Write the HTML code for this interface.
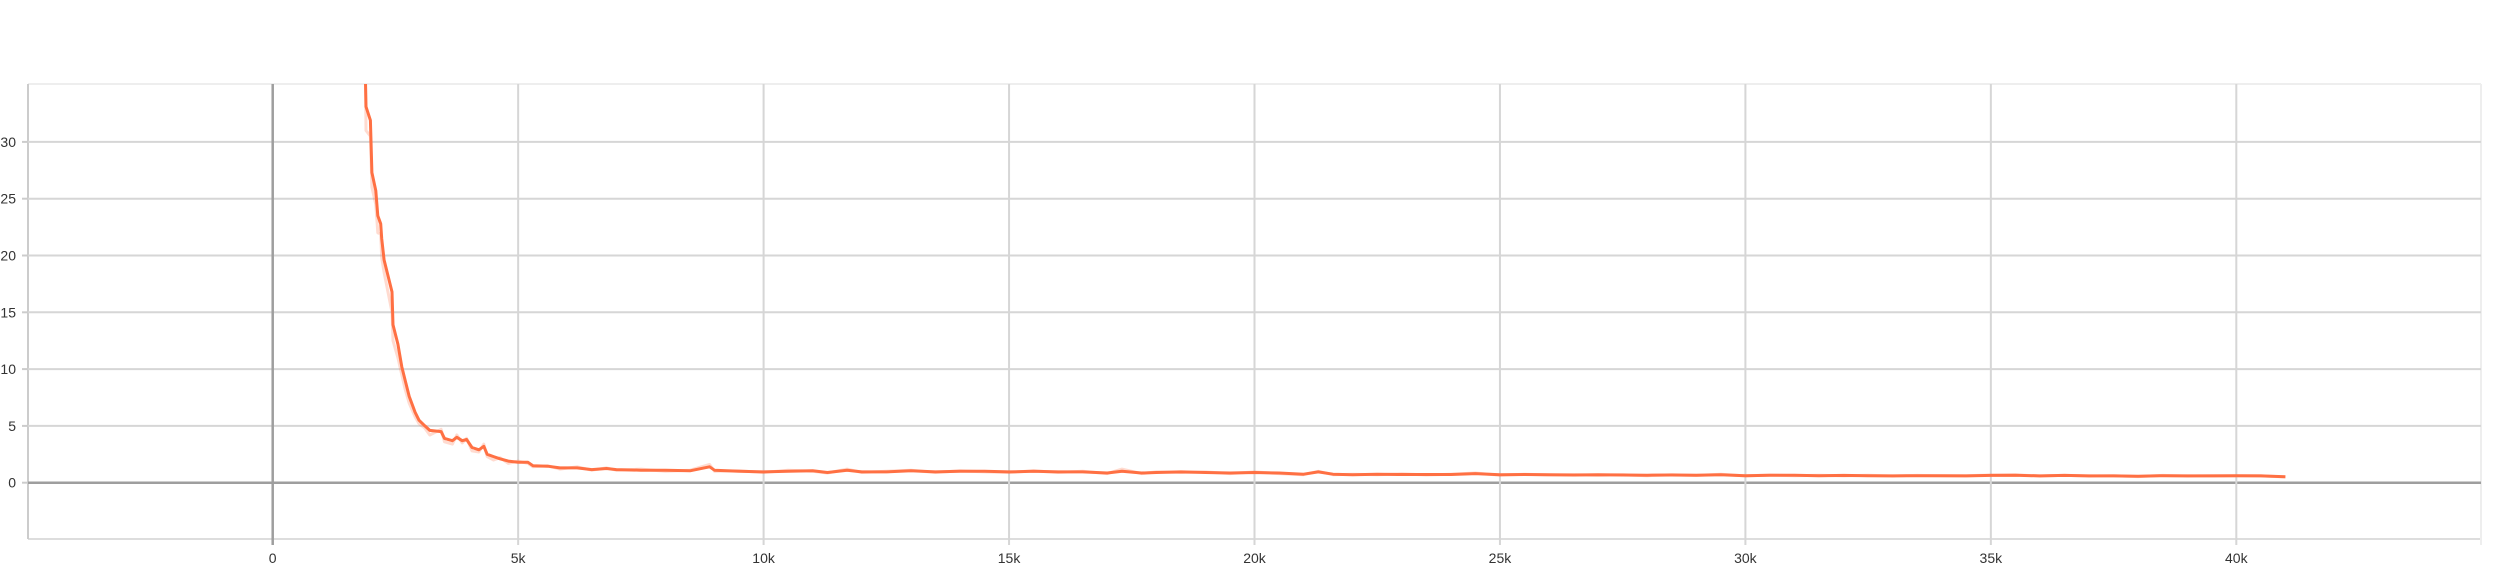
<!DOCTYPE html>
<html><head><meta charset="utf-8"><style>
html,body{margin:0;padding:0;background:#fff;}
svg{display:block;font-family:"Liberation Sans",sans-serif;}
</style></head><body>
<svg id="chart" width="2494" height="566" viewBox="0 0 2494 566" xmlns="http://www.w3.org/2000/svg">
<defs><clipPath id="plotclip"><rect x="28" y="84" width="2453" height="455"/></clipPath></defs>
<g id="grid"></g>
<g id="axes"></g>
<g id="series" clip-path="url(#plotclip)"></g>
</svg>
<script>
const steps = [1.89,1.9,1.99,2.02,2.1,2.14,2.2,2.22,2.27,2.43,2.45,2.55,2.63,2.7,2.78,2.9,2.98,3.1,3.2,3.43,3.5,3.66,3.75,3.86,3.95,4.06,4.2,4.3,4.37,4.5,4.63,4.8,5.0,5.2,5.3,5.6,5.85,6.2,6.5,6.8,7.0,7.5,8.0,8.5,8.9,9.0,9.5,10,10.5,11,11.3,11.7,12,12.5,13,13.5,14,14.5,15,15.5,16,16.5,17,17.3,17.7,18,18.5,19,19.5,20,20.5,21,21.3,21.6,22,22.5,23,23.5,24,24.5,25,25.5,26,26.5,27,27.5,28,28.5,29,29.5,30,30.5,31,31.5,32,32.5,33,33.5,34,34.5,35,35.5,36,36.5,37,37.5,38,38.5,39,39.5,40,40.5,41];
const values = [35.2,33.1,31.9,27.3,25.7,23.5,22.8,21.5,19.6,16.8,13.9,12.2,10.2,9.0,7.6,6.2,5.5,5.0,4.6,4.5,3.9,3.7,4.0,3.7,3.8,3.1,2.9,3.2,2.5,2.3,2.1,1.9,1.8,1.8,1.5,1.45,1.3,1.3,1.15,1.25,1.15,1.1,1.1,1.05,1.4,1.1,1.0,0.95,1.0,1.05,0.9,1.1,0.95,0.95,1.05,0.95,1.0,1.0,0.95,1.0,0.95,0.95,0.85,1.0,0.85,0.9,0.95,0.9,0.85,0.9,0.85,0.75,0.95,0.75,0.7,0.75,0.72,0.72,0.72,0.8,0.7,0.72,0.7,0.68,0.7,0.68,0.66,0.68,0.66,0.7,0.62,0.66,0.65,0.62,0.64,0.62,0.6,0.62,0.62,0.6,0.64,0.66,0.6,0.64,0.6,0.6,0.56,0.62,0.6,0.6,0.62,0.6,0.52];
const rawValues = [35.5,31.0,30.5,26.0,24.5,22.0,21.9,19.8,18.5,15.0,12.5,11.0,9.5,8.2,7.0,5.8,5.2,4.8,4.2,4.7,3.6,3.4,4.2,3.5,3.9,2.8,2.7,3.4,2.3,2.0,2.2,1.7,1.9,1.7,1.4,1.5,1.2,1.4,1.1,1.3,1.1,1.2,1.0,1.1,1.6,1.0,1.05,0.9,1.1,1.0,0.85,1.2,0.9,1.0,1.1,0.9,1.05,0.95,0.9,1.05,0.9,1.0,0.8,1.2,0.8,0.95,0.9,0.95,0.8,0.95,0.8,0.7,1.0,0.7,0.75,0.7,0.78,0.68,0.75,0.85,0.66,0.75,0.68,0.7,0.66,0.7,0.62,0.7,0.64,0.75,0.6,0.68,0.62,0.65,0.6,0.66,0.58,0.64,0.6,0.62,0.68,0.7,0.58,0.66,0.58,0.62,0.54,0.64,0.58,0.62,0.6,0.62,0.5];
const yTicks = [0,5,10,15,20,25,30];
const xTicks = [0,5,10,15,20,25,30,35,40];
const xTickLabels = ["0","5k","10k","15k","20k","25k","30k","35k","40k"];

const NS = "http://www.w3.org/2000/svg";
const X0 = 272.7, XK = 49.09, Y0 = 482.7, YU = 11.36;
function xs(s){ return X0 + s*XK; }
function ys(v){ return Y0 - v*YU; }
function mk(tag, attrs, parent){
  const e = document.createElementNS(NS, tag);
  for (const k in attrs) e.setAttribute(k, attrs[k]);
  parent.appendChild(e); return e;
}
const grid = document.getElementById('grid');
const axes = document.getElementById('axes');
const series = document.getElementById('series');

// frame
let fr = mk('line',{x1:28,y1:84,x2:2481,y2:84,stroke:'#eeeeee','stroke-width':2},grid);


fr = mk('line',{x1:28,y1:539,x2:2481,y2:539,stroke:'#dddddd','stroke-width':2},grid);


fr = mk('line',{x1:28,y1:84,x2:28,y2:539,stroke:'#cccccc','stroke-width':2},grid);


fr = mk('line',{x1:2481,y1:84,x2:2481,y2:545,stroke:'#eeeeee','stroke-width':2},grid);



yTicks.forEach(function(v){
  const y = ys(v);
  const g = mk('line',{x1:28,y1:y,x2:2481,y2:y,stroke:v===0?'#9e9e9e':'#d6d6d6','stroke-width':v===0?2.5:2},grid);
  
  
  const t = mk('line',{x1:22,y1:y,x2:28,y2:y,stroke:'#cccccc','stroke-width':2},axes);
  
  
  const l = mk('text',{x:16,y:y+5,'text-anchor':'end','font-size':14,fill:'#333'},axes);
  l.textContent = String(v);
  
  
});
xTicks.forEach(function(s,i){
  const x = xs(s);
  const g = mk('line',{x1:x,y1:84,x2:x,y2:545,stroke:s===0?'#9e9e9e':'#d6d6d6','stroke-width':s===0?2.5:2},grid);
  
  
  const l = mk('text',{x:x,y:563,'text-anchor':'middle','font-size':14,fill:'#333'},axes);
  l.textContent = xTickLabels[i];
  
  
});

function pathFor(arr){
  return steps.map(function(s,i){ return (i?'L':'M')+xs(s).toFixed(1)+','+ys(arr[i]).toFixed(1); }).join('');
}
const raw = mk('path',{d:pathFor(rawValues),fill:'none',stroke:'#ff7043','stroke-opacity':0.25,'stroke-width':3,'stroke-linejoin':'round'},series);


const sm = mk('path',{d:pathFor(values),fill:'none',stroke:'#ff7043','stroke-width':3,'stroke-linejoin':'round'},series);


</script>
</body></html>
